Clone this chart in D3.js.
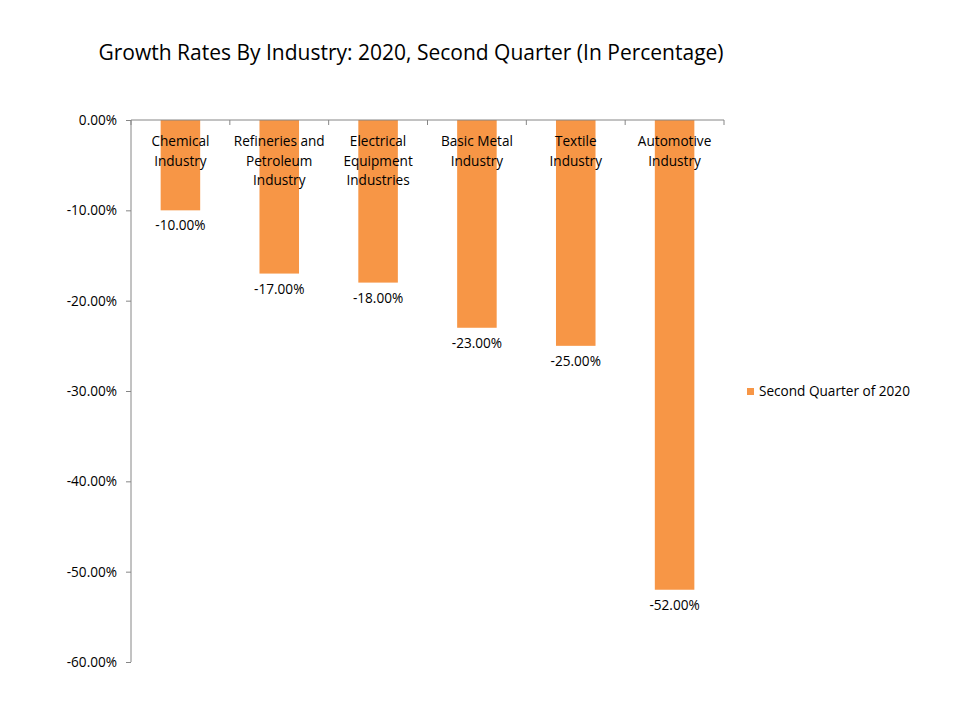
<!DOCTYPE html>
<html>
<head>
<meta charset="utf-8">
<script src="https://cdn.jsdelivr.net/npm/d3@7"></script>
<style>
  body { margin: 0; background: #fff; }
  text { font-family: "Open Sans", "Noto Sans", sans-serif; fill: #000; }
</style>
</head>
<body>
<div id="chart"></div>
<script>
var WIDTH = 960;
var HEIGHT = 720;

// データ
var categories = ["Chemical Industry", "Refineries and Petroleum Industry", "Electrical Equipment Industries",
  "Basic Metal Industry", "Textile Industry", "Automotive Industry"];
var labelLines = [
  ["Chemical", "Industry"],
  ["Refineries and", "Petroleum", "Industry"],
  ["Electrical", "Equipment", "Industries"],
  ["Basic Metal", "Industry"],
  ["Textile", "Industry"],
  ["Automotive", "Industry"]
];
var values = [-10, -17, -18, -23, -25, -52];
var yTicks = [0, -10, -20, -30, -40, -50, -60];
var seriesName = "Second Quarter of 2020";
var title = "Growth Rates By Industry: 2020, Second Quarter (In Percentage)";

var svg = d3.select("#chart").append("svg").attr("width", WIDTH).attr("height", HEIGHT);

var plotLeft = 131, plotRight = 724, plotTop = 120, plotBottom = 662;
var color = "#F79646";
var axisColor = "#868686";
var fs = "13.6px";

var x = d3.scaleBand().domain(categories).range([plotLeft, plotRight]).paddingInner(0.6).paddingOuter(0.3);
var y = d3.scaleLinear().domain([-60, 0]).range([plotBottom, plotTop]);

// タイトル
svg.append("text")
  .attr("x", 411).attr("y", 60)
  .attr("text-anchor", "middle")
  .style("font-size", "21px")
  .text(title);

// Y軸
var yAxis = svg.append("g").attr("transform", "translate(" + plotLeft + ",0)")
  .call(d3.axisLeft(y).tickValues(yTicks).tickSize(5).tickPadding(9)
    .tickFormat(function(d) { return d.toFixed(2) + "%"; }));
yAxis.select(".domain").attr("stroke", axisColor).attr("d", "M0," + plotTop + "V" + plotBottom);
yAxis.selectAll(".tick line").attr("stroke", axisColor);
yAxis.selectAll(".tick text").style("font-size", fs).style("font-family", "'Open Sans', sans-serif").attr("fill", "#000");

// 棒
svg.append("g").selectAll("rect")
  .data(values)
  .enter()
  .append("rect")
  .attr("x", function(d, i) { return x(categories[i]); })
  .attr("y", y(0))
  .attr("width", x.bandwidth())
  .attr("height", function(d) { return y(d) - y(0); })
  .attr("fill", color);

// カテゴリ軸（0の位置）
var step = x.step();
svg.append("line")
  .attr("x1", plotLeft).attr("x2", plotRight)
  .attr("y1", y(0)).attr("y2", y(0))
  .attr("stroke", axisColor);
svg.append("g").selectAll("line")
  .data(d3.range(categories.length + 1))
  .enter()
  .append("line")
  .attr("x1", function(i) { return plotLeft + i * step; })
  .attr("x2", function(i) { return plotLeft + i * step; })
  .attr("y1", y(0)).attr("y2", y(0) + 5)
  .attr("stroke", axisColor);

// カテゴリラベル
var catg = svg.append("g").selectAll("text")
  .data(labelLines)
  .enter()
  .append("text")
  .attr("text-anchor", "middle")
  .style("font-size", fs);
catg.each(function(lines, i) {
  var t = d3.select(this);
  lines.forEach(function(l, j) {
    t.append("tspan")
      .attr("x", x(categories[i]) + x.bandwidth() / 2)
      .attr("y", 146 + j * 19.5)
      .text(l);
  });
});

// 値ラベル
svg.append("g").selectAll("text")
  .data(values)
  .enter()
  .append("text")
  .attr("x", function(d, i) { return x(categories[i]) + x.bandwidth() / 2; })
  .attr("y", function(d) { return y(d) + 20; })
  .attr("text-anchor", "middle")
  .style("font-size", fs)
  .text(function(d) { return d.toFixed(2) + "%"; });

// 凡例
svg.append("rect").attr("x", 747).attr("y", 388).attr("width", 7).attr("height", 7).attr("fill", color);
svg.append("text").attr("x", 759).attr("y", 396).style("font-size", fs).text(seriesName);
</script>
</body>
</html>
